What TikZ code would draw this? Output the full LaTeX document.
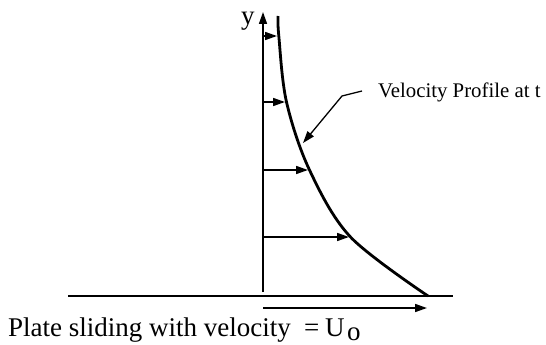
\documentclass[tikz,border=0pt]{standalone}
\usepackage{fontspec}
\setmainfont{Liberation Serif}
\usetikzlibrary{arrows.meta}
\begin{document}
\begin{tikzpicture}[x=1pt,y=-1pt,
  thinline/.style={line width=1.6pt},
  thickline/.style={line width=2.8pt},
  tipped/.style={-{Triangle[length=12pt,width=8pt]}},
  txt/.style={inner sep=0pt, anchor=base west},
  bigfont/.style={font=\fontsize{27}{31}\selectfont},
  smallfont/.style={font=\fontsize{20.8}{24}\selectfont}]
\useasboundingbox (0,0) rectangle (546,345);
% axis
\coordinate (o) at (263,292);
\coordinate (ytop) at (263,12);
\draw[thinline,tipped] (o) -- (ytop);
\node[txt,font=\fontsize{27}{30}\selectfont] (ylab) at (241,25) {y};
% plate
\coordinate (pl) at (68,296);
\coordinate (pr) at (453,296);
\draw[thickline] (pl) -- (pr);
% velocity profile curve
\coordinate (c0) at (278,16);
\coordinate (c1) at (278.8,36);
\coordinate (c2) at (286.5,102);
\coordinate (c3) at (309.5,170);
\coordinate (c4) at (350.5,237);
\coordinate (c5) at (428,296);
\draw[thickline] plot[smooth,tension=0.55] coordinates {(c0) (c1) (c2) (c3) (c4) (c5)};
% velocity arrows
\coordinate (s1) at (263,36);
\coordinate (s2) at (263,102);
\coordinate (s3) at (263,170);
\coordinate (s4) at (263,237);
\coordinate (e1) at (277,36);
\coordinate (e2) at (285,102);
\coordinate (e3) at (308,170);
\coordinate (e4) at (349,237);
\draw[thinline,tipped] (s1) -- (e1);
\draw[thinline,tipped] (s2) -- (e2);
\draw[thinline,tipped] (s3) -- (e3);
\draw[thinline,tipped] (s4) -- (e4);
% pointer to profile
\coordinate (p0) at (362,91);
\coordinate (p1) at (342,96);
\coordinate (p2) at (303,143);
\draw[line width=1.3pt,tipped] (p0) -- (p1) -- (p2);
\node[txt,smallfont] (lab) at (378,97) {Velocity Profile at t};
% plate velocity arrow
\coordinate (v0) at (263,308);
\coordinate (v1) at (427,308);
\draw[thinline,tipped] (v0) -- (v1);
\node[txt,bigfont] (plate) at (8,336) {Plate sliding with velocity};
\node[txt,bigfont] (eq) at (304,336) {=};
\node[txt,bigfont] (U) at (325,336) {U};
\node[txt,bigfont] (sub) at (347,340.5) {o};
\end{tikzpicture}
\end{document}
